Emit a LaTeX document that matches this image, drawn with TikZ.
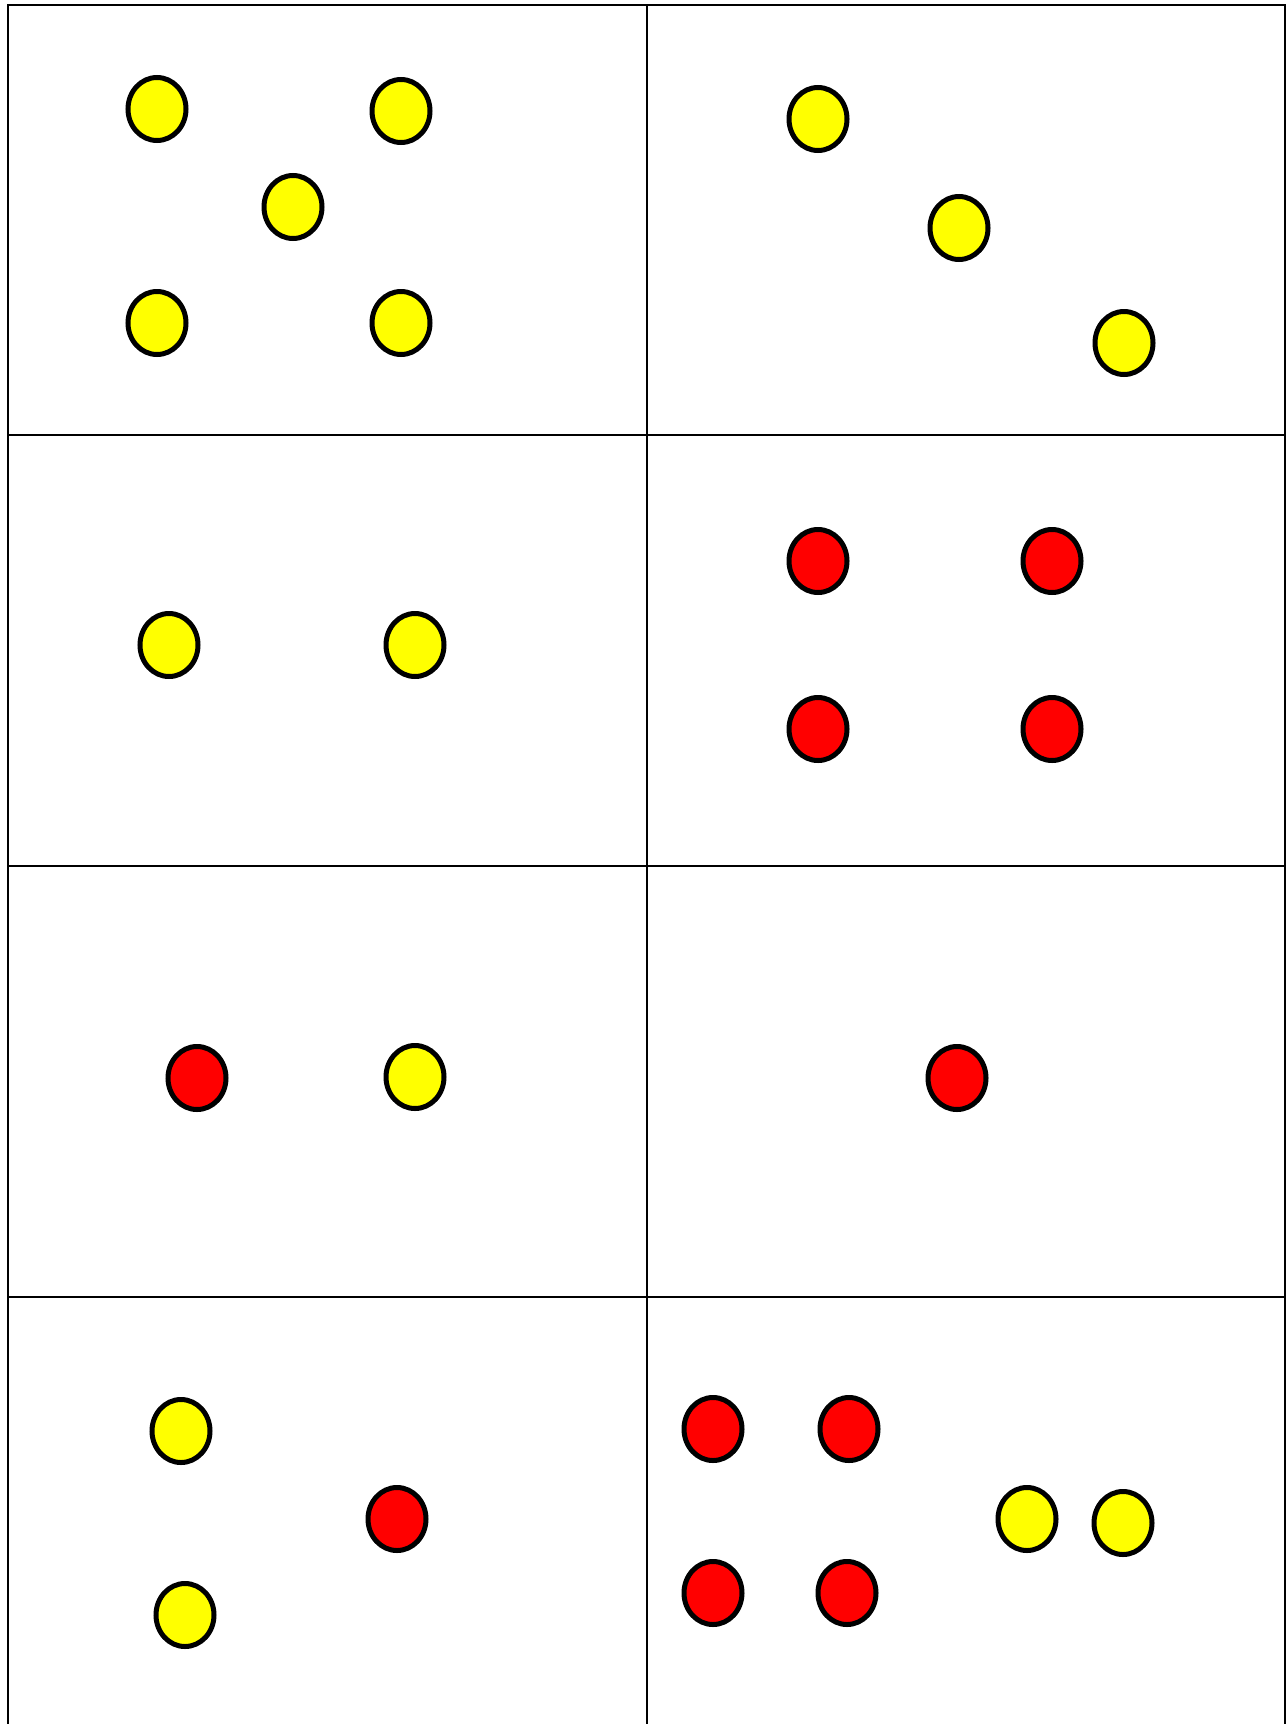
\documentclass[tikz,border=0pt]{standalone}
\definecolor{dotyellow}{HTML}{FFFF00}
\definecolor{dotred}{HTML}{FF0000}
\usepackage{tikz}
\usetikzlibrary{shapes.geometric}

\begin{document}
\begin{tikzpicture}[
    x=1pt, y=-1pt,
    dot/.style={ellipse, draw=black, line width=5pt,
                minimum width=58pt, minimum height=63pt, inner sep=0pt},
    ydot/.style={dot, fill=dotyellow},
    rdot/.style={dot, fill=dotred},
    grid/.style={draw=black, line width=2pt},
  ]
  \useasboundingbox (0,0) rectangle (1286,1724);

  % Panel frame
  \draw[grid] (8,1724) -- (8,5) -- (1285,5) -- (1285,1724);
  \draw[grid] (647,5) -- (647,1724);
  \draw[grid] (8,435) -- (1285,435);
  \draw[grid] (8,866) -- (1285,866);
  \draw[grid] (8,1297) -- (1285,1297);

  % Row 1
  \node[ydot] (a1) at (157,109) {};
  \node[ydot] (a2) at (401,111) {};
  \node[ydot] (a3) at (293,207) {};
  \node[ydot] (a4) at (157,323) {};
  \node[ydot] (a5) at (401,323) {};

  \node[ydot] (b1) at (818,119) {};
  \node[ydot] (b2) at (959,228) {};
  \node[ydot] (b3) at (1124,343) {};

  % Row 2
  \node[ydot] (c1) at (169,645) {};
  \node[ydot] (c2) at (415,645) {};

  \node[rdot] (d1) at (818,561) {};
  \node[rdot] (d2) at (1052,561) {};
  \node[rdot] (d3) at (818,729) {};
  \node[rdot] (d4) at (1052,729) {};

  % Row 3
  \node[rdot] (e1) at (197,1078) {};
  \node[ydot] (e2) at (415,1077) {};

  \node[rdot] (f1) at (957,1078) {};

  % Row 4
  \node[ydot] (g1) at (181,1431) {};
  \node[rdot] (g2) at (397,1519) {};
  \node[ydot] (g3) at (185,1615) {};

  \node[rdot] (h1) at (713,1429) {};
  \node[rdot] (h2) at (849,1429) {};
  \node[ydot] (h3) at (1027,1519) {};
  \node[ydot] (h4) at (1123,1523) {};
  \node[rdot] (h5) at (713,1593) {};
  \node[rdot] (h6) at (847,1593) {};
\end{tikzpicture}
\end{document}
